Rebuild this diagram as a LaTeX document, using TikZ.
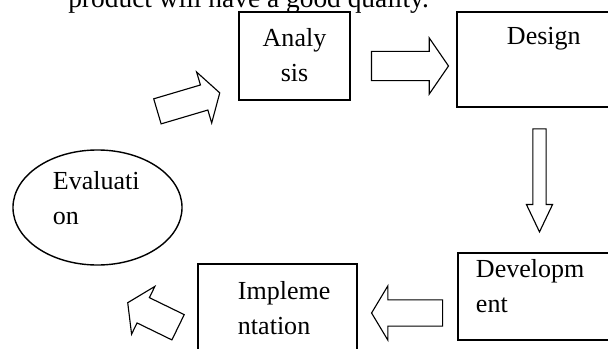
\documentclass[tikz,border=0pt]{standalone}
\usepackage{fontspec}
\setmainfont{Liberation Serif}
\usetikzlibrary{shapes,arrows,positioning}

\begin{document}
\begin{tikzpicture}[x=0.025cm, y=-0.025cm, auto]
    % Define block styles
    \tikzstyle{block} = [rectangle, draw, line width=1.1pt, inner sep=0pt, text height=0.5cm, font=\fontsize{18.5}{24.5}\selectfont]
    \tikzstyle{phase} = [ellipse, draw, line width=1pt, inner sep=0pt, text height=0.5cm, align=left, font=\fontsize{18.5}{24.5}\selectfont]
    \tikzstyle{flow} = [single arrow, draw, line width=0.8pt, inner xsep=0pt, single arrow head indent=0pt]

    \useasboundingbox (0,0) rectangle (608,349);
    \clip (0,0) rectangle (608,349);

    % Nodes
    \node [anchor=base west, inner sep=0pt, font=\fontsize{19.5}{24}\selectfont] (Context) at (68,7) {product will have a good quality.};
    \node [block, minimum width=2.775cm, minimum height=2.2cm, text width=2.5cm, align=center, text depth=0.95cm] (Analysis) at (294.5,56) {Analy\\sis};
    \node [block, minimum width=5.075cm, minimum height=2.375cm, text width=2.575cm, align=left, text depth=1.225cm] (Design) at (558.5,59.5) {Design};
    \node [block, minimum width=5.05cm, minimum height=2.175cm, text width=4.15cm, align=left, text depth=1.425cm] (Development) at (559,296.5) {Developm\\ent};
    \node [block, minimum width=3.975cm, minimum height=2.5cm, text width=1.975cm, align=left, text depth=1.2cm] (Implementation) at (277.5,314) {Impleme\\ntation};
    \node [phase, minimum width=4.225cm, minimum height=2.875cm, text width=2.225cm, text depth=1.375cm] (Evaluation) at (97.5,207.5) {Evaluati\\on};

    % Arrows
    \node [flow, inner ysep=0.3125cm, minimum height=1.625cm, minimum width=1.3cm, single arrow head extend=0.3375cm, single arrow tip angle=117, rotate=16.5] (To_Analysis) at (184.75,103.25) {};
    \node [flow, inner ysep=0.35cm, minimum height=1.925cm, minimum width=1.375cm, single arrow head extend=0.3375cm, single arrow tip angle=111] (To_Design) at (405,66) {};
    \node [flow, inner ysep=0.15cm, minimum height=2.575cm, minimum width=0.625cm, single arrow head extend=0.1625cm, single arrow tip angle=51, rotate=-90] (To_Development) at (539.5,173.5) {};
    \node [flow, inner ysep=0.3125cm, minimum height=1.775cm, minimum width=1.325cm, single arrow head extend=0.35cm, single arrow tip angle=118, rotate=180] (To_Implementation) at (411,313) {};
    \node [flow, inner ysep=0.3375cm, minimum height=1.4cm, minimum width=1.3cm, single arrow head extend=0.3125cm, single arrow tip angle=114, rotate=154] (To_Evaluation) at (157,317) {};

\end{tikzpicture}
\end{document}
